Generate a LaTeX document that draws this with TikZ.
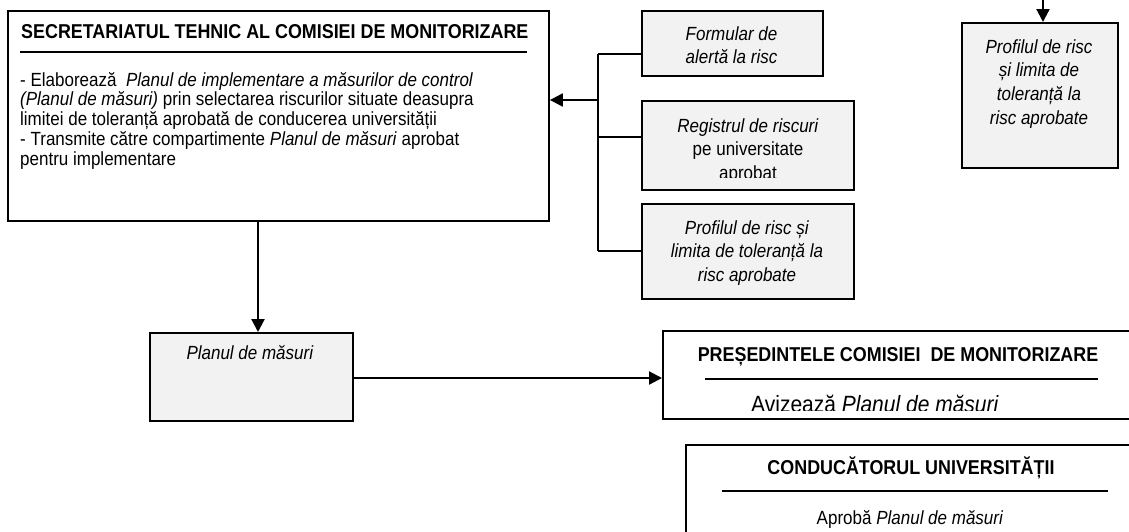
\documentclass[tikz,border=0pt]{standalone}
\usepackage{fontspec}
\usepackage{graphicx}
\setmainfont{Liberation Sans}
\usetikzlibrary{arrows.meta}
\definecolor{boxgray}{RGB}{242,242,242}
\newcommand{\textlines}[2]{\begin{tabular}[t]{@{}#1@{}}#2\end{tabular}}
\newcommand{\tallt}[1]{\scalebox{1}[1.12]{#1}}
\begin{document}
\begin{tikzpicture}[x=1pt,y=-1pt,
  box/.style={draw=black, line width=1.9pt, fill=white, inner sep=0pt, anchor=north west},
  gbox/.style={box, fill=boxgray},
  conn/.style={line width=1.9pt},
  arr/.style={line width=2.2pt, -{Triangle[length=13pt,width=13pt]}},
  rulebar/.style={line width=1.6pt},
  txt/.style={font=\fontsize{17}{21}\selectfont, inner sep=0pt, anchor=base},
  bodytxt/.style={font=\fontsize{17}{17.6}\selectfont, inner sep=0pt, anchor=base west},
  head/.style={font=\fontsize{17.9}{21}\selectfont\bfseries, inner sep=0pt, anchor=base},
]
\useasboundingbox (0,0) rectangle (1129,531);
\clip (0,0) rectangle (1129,531);
\fill[white] (0,0) rectangle (1129,531);

% ---- Secretariat box
\node[box, minimum width=541pt, minimum height=210pt] (sec) at (7,10) {};
\node[head, anchor=base west] (sect) at (21,38) {\tallt{SECRETARIATUL TEHNIC AL COMISIEI DE MONITORIZARE}};
\draw[rulebar] (20,52) -- (527,52);
\node[bodytxt] (secb) at (20,86) {\tallt{\textlines{l}{%
- Elaborează\ \ \textit{Planul de implementare a măsurilor de control}\\
\textit{(Planul de măsuri)} prin selectarea riscurilor situate deasupra\\
limitei de toleranță aprobată de conducerea universității\\
- Transmite către compartimente \textit{Planul de măsuri} aprobat\\
pentru implementare}}};

% ---- input boxes
\node[gbox, minimum width=181pt, minimum height=65pt] (form) at (641,10) {};
\node[txt] (formt) at (731.5,40) {\tallt{\textlines{c}{\textit{Formular de}\\\textit{alertă la risc}}}};

\node[gbox, minimum width=212pt, minimum height=89pt] (reg) at (641,100) {};
\begin{scope}
\clip (641,100) rectangle (853,177);
\node[txt] (regt) at (748,132) {\tallt{\textlines{c}{\textit{Registrul de riscuri}\\pe universitate\\aprobat}}};
\end{scope}

\node[gbox, minimum width=212pt, minimum height=95pt] (prof) at (641,203) {};
\node[txt] (proft) at (747,234) {\tallt{\textlines{c}{\textit{Profilul de risc și}\\\textit{limita de toleranță la}\\\textit{risc aprobate}}}};

% ---- bus and arrow into secretariat
\coordinate (b1) at (598,54);
\coordinate (b2) at (598,137);
\coordinate (b3) at (598,251);
\coordinate (bm) at (598,100);
\draw[conn] (b1) -- (b3);
\draw[conn] (b1) -- (b1 -| form.west);
\draw[conn] (b2) -- (b2 -| reg.west);
\draw[conn] (b3) -- (b3 -| prof.west);
\draw[arr] (bm) -- (bm -| sec.east);

% ---- right profile box
\node[gbox, minimum width=156pt, minimum height=145pt] (rprof) at (961,22) {};
\node[txt, font=\fontsize{17}{21.4}\selectfont] (rproft) at (1039,53) {\tallt{\textlines{c}{\textit{Profilul de risc}\\\textit{și limita de}\\\textit{toleranță la}\\\textit{risc aprobate}}}};
\coordinate (tp) at (1043,-6);
\draw[arr] (tp) -- (tp |- rprof.north);

% ---- plan box
\node[gbox, minimum width=203pt, minimum height=88pt] (plan) at (149,332) {};
\node[txt] (plant) at (250,359) {\tallt{\textit{Planul de măsuri}}};
\coordinate (xa) at (258,0);
\draw[arr] (sec.south -| xa) -- (plan.north -| xa);

% ---- president box
\node[box, minimum width=500pt, minimum height=88pt] (pres) at (662,330) {};
\node[head] (prest) at (898,361) {\tallt{PREȘEDINTELE COMISIEI\ \ DE MONITORIZARE}};
\draw[rulebar] (705,379) -- (1098,379);
\begin{scope}
\clip (662,330) rectangle (1129,410.5);
\node[txt, font=\fontsize{21}{24}\selectfont] (presa) at (875,412) {\tallt{Avizează \textit{Planul de măsuri}}};
\end{scope}
\coordinate (ya) at (0,378);
\draw[arr] (plan.east |- ya) -- (pres.west |- ya);

% ---- rector box
\node[box, minimum width=500pt, minimum height=120pt] (cond) at (685,444) {};
\node[head] (condt) at (911,474) {\tallt{CONDUCĂTORUL UNIVERSITĂȚII}};
\draw[rulebar] (722,491) -- (1108,491);
\node[txt] (conda) at (910,524) {\tallt{Aprobă \textit{Planul de măsuri}}};
\end{tikzpicture}
\end{document}
